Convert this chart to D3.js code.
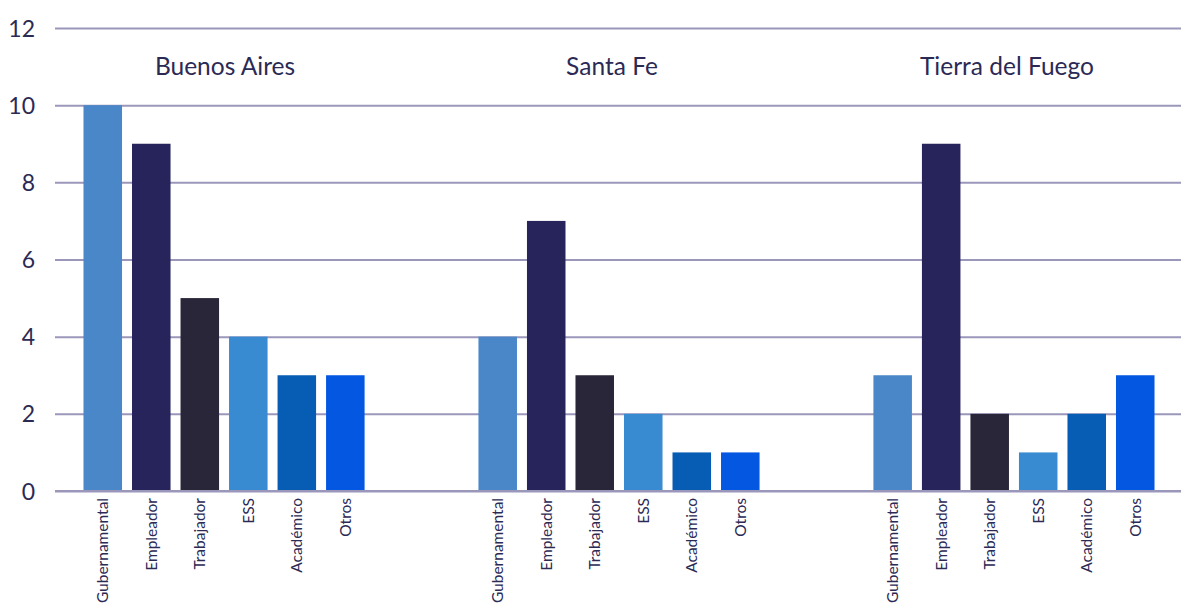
<!DOCTYPE html>
<html><head><meta charset="utf-8">
<script src="https://cdn.jsdelivr.net/npm/d3@7"></script>
<style>body{margin:0;background:#fff}svg{display:block}</style>
</head><body>
<svg id="chart" width="1181" height="610"></svg>
<script>
const provinces = ["Buenos Aires", "Santa Fe", "Tierra del Fuego"];
const sectors = ["Gubernamental", "Empleador", "Trabajador", "ESS", "Académico", "Otros"];
const buenosAires = [10, 9, 5, 4, 3, 3];
const santaFe = [4, 7, 3, 2, 1, 1];
const tierraDelFuego = [3, 9, 2, 1, 2, 3];
const yTicks = [0, 2, 4, 6, 8, 10, 12];
const colors = ["#4a87c8", "#26245a", "#2a2639", "#388bd0", "#075db4", "#0457e0"];

const seriesByProvince = [buenosAires, santaFe, tierraDelFuego];
const svg = d3.select("#chart");
const textColor = "#2b2a55";
const gridColor = "#9a97bb";
const font = "Lato, 'Open Sans', sans-serif";

const y = d3.scaleLinear().domain([0, 12]).range([491, 28]);
const xGroup = d3.scaleBand().domain(provinces).range([78.5, 1159.5]).paddingInner(0.263).paddingOuter(0);
const xBar = d3.scaleBand().domain(sectors).range([0, xGroup.bandwidth()]).paddingInner(0.206).paddingOuter(0.103);
const color = d3.scaleOrdinal().domain(sectors).range(colors);

// grid
const yAxis = d3.axisLeft(y).tickValues(yTicks).tickSize(-(1181 - 55)).tickPadding(20);
const ga = svg.append("g").attr("transform", "translate(55,0)").call(yAxis);
ga.select(".domain").remove();
ga.selectAll(".tick line").attr("stroke", gridColor).attr("stroke-width", 2);
ga.selectAll(".tick text").attr("fill", textColor).attr("font-family", font)
  .attr("font-size", 23).attr("x", -20).attr("dy", "0.35em");

// groups
provinces.forEach((p, gi) => {
  const g = svg.append("g").attr("transform", `translate(${xGroup(p)},0)`);
  const data = sectors.map((s, i) => ({ s, v: seriesByProvince[gi][i] }));
  g.selectAll("rect").data(data).join("rect")
    .attr("x", d => xBar(d.s))
    .attr("width", xBar.bandwidth())
    .attr("y", d => y(d.v))
    .attr("height", d => y(0) - y(d.v))
    .attr("fill", d => color(d.s));
  g.append("text")
    .attr("x", xGroup.bandwidth() / 2 + [1, -7, -7][gi])
    .attr("y", 75)
    .attr("text-anchor", "middle")
    .attr("fill", textColor)
    .attr("font-family", font)
    .attr("font-size", 24.5)
    .text(p);
  const xa = d3.axisBottom(xBar).tickSize(0).tickPadding(0);
  const gx = g.append("g").attr("transform", `translate(0,${y(0)})`).call(xa);
  gx.select(".domain").remove();
  gx.selectAll(".tick text")
    .attr("transform", "rotate(-90)")
    .attr("text-anchor", "end")
    .attr("x", -7).attr("y", 0).attr("dy", "0.35em")
    .attr("fill", textColor)
    .attr("font-family", font)
    .attr("font-size", 15.5);
});
// redraw baseline over bars
svg.append("line").attr("x1", 55).attr("x2", 1181).attr("y1", y(0)).attr("y2", y(0))
  .attr("stroke", gridColor).attr("stroke-width", 2);
</script>
</body></html>
